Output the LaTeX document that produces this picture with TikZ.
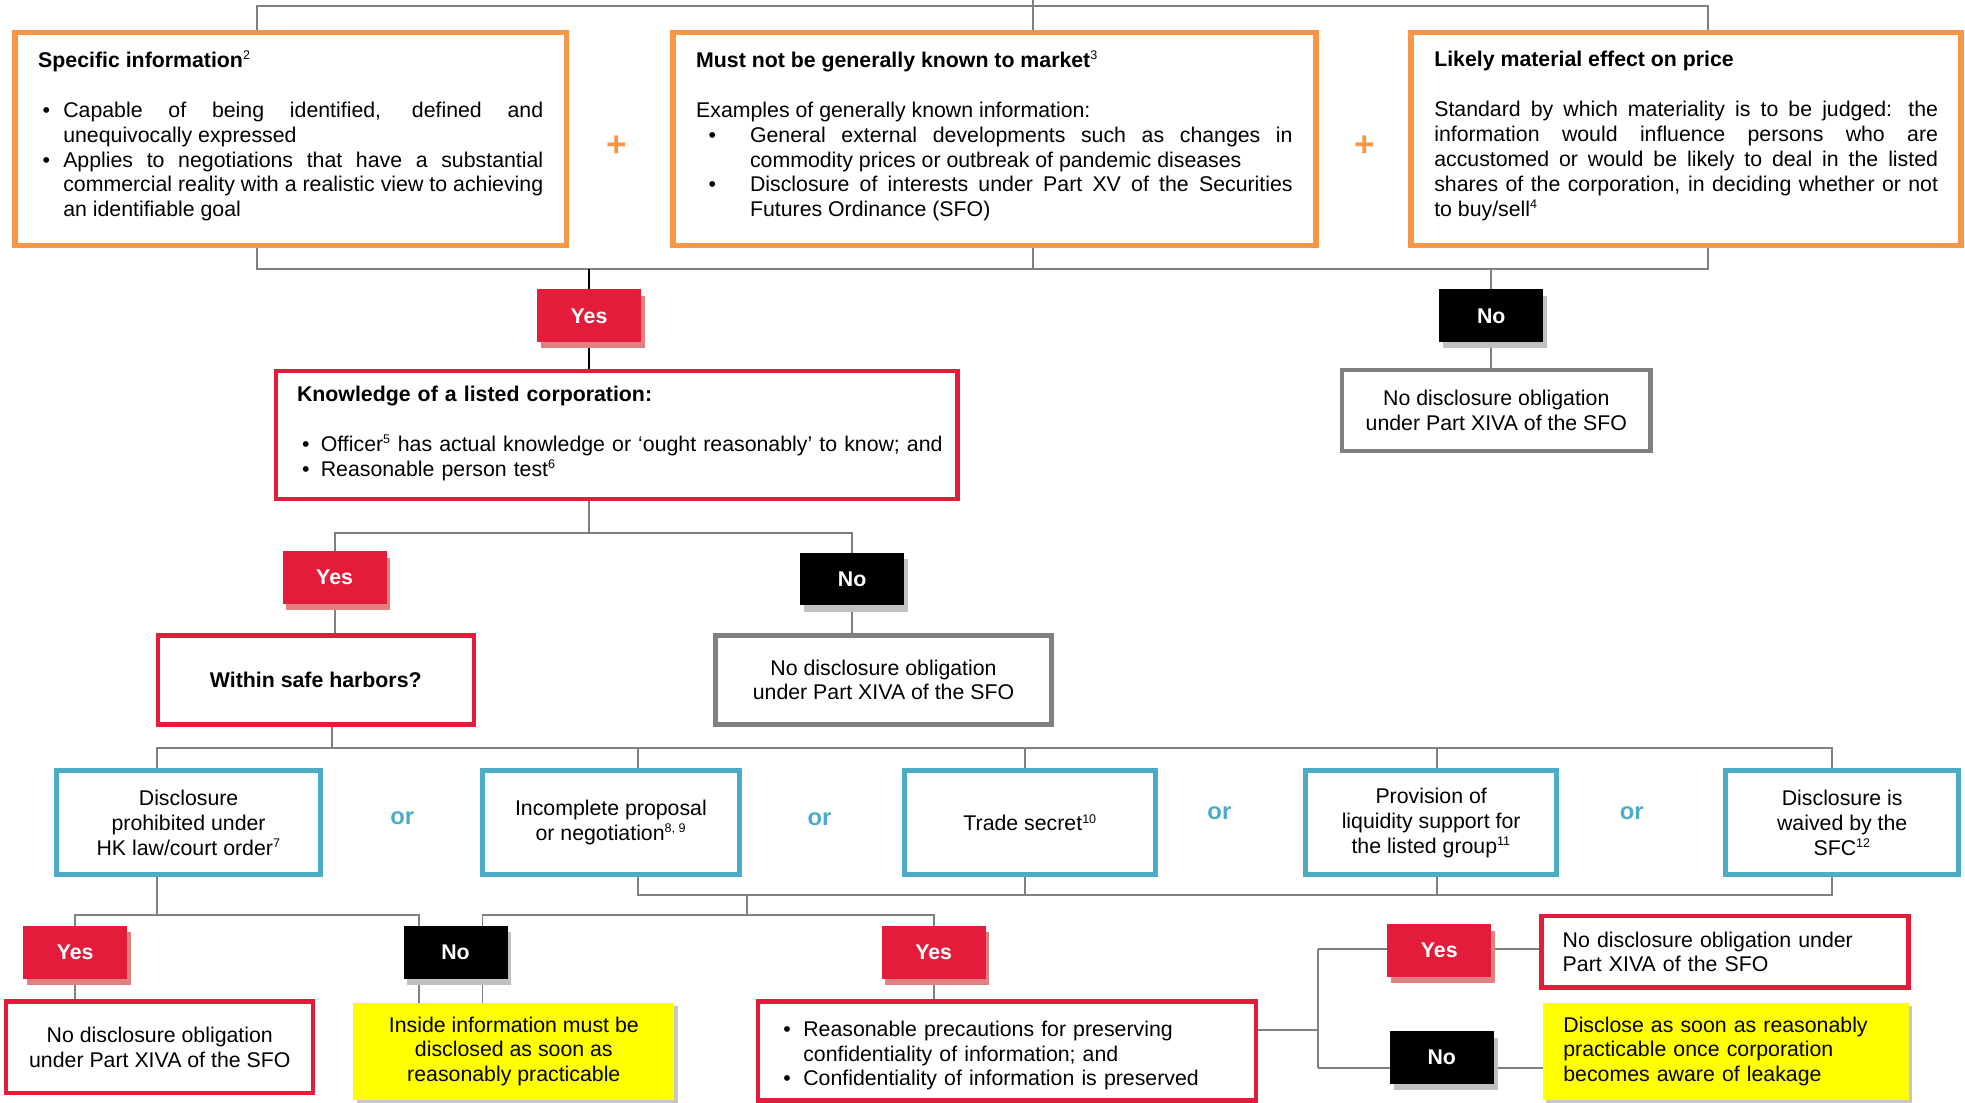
\documentclass[tikz,border=0pt]{standalone}
\usepackage{fontspec}
\setmainfont{Liberation Sans}
\usetikzlibrary{shadows,backgrounds}
\definecolor{cOrange}{HTML}{F79646}
\definecolor{cRed}{HTML}{E41B3A}
\definecolor{cBlue}{HTML}{4BACC6}
\definecolor{cGrey}{HTML}{808080}
\definecolor{cPink}{HTML}{E08080}
\definecolor{cShade}{HTML}{C0C0C0}
\definecolor{cYellow}{HTML}{FFFF00}
\hyphenpenalty=10000
\exhyphenpenalty=10000
\tolerance=9000
\newcommand{\sups}[1]{\textsuperscript{\fontsize{10}{10}\selectfont #1}}
\newcommand{\bitem}[3]{\par\noindent\hangindent=#2\hangafter=1\makebox[#2][l]{\hspace*{#1}\textbullet}\ignorespaces#3\par}
\newcommand{\tailspace}[1]{\par\vspace{#1}\hrule height 0pt width 0pt}
\begin{document}
\begin{tikzpicture}[x=1pt,y=-1pt,
  every node/.style={font=\fontsize{17}{19.8}\selectfont, inner sep=0pt, outer sep=0pt},
  obox/.style={rectangle, draw=cOrange, line width=4.5pt, fill=white},
  rbox/.style={rectangle, draw=cRed, line width=3.5pt, fill=white},
  gbox/.style={rectangle, draw=cGrey, line width=3.5pt, fill=white},
  bbox/.style={rectangle, draw=cBlue, line width=3.8pt, fill=white, align=center, minimum height=83pt},
  ybox/.style={rectangle, fill=cYellow, general shadow={fill=black!22, shadow xshift=3pt, shadow yshift=-3pt}},
  yestag/.style={rectangle, fill=cRed, text=white, font=\fontsize{17}{20}\selectfont\bfseries,
     minimum width=83pt, minimum height=42pt, general shadow={fill=cPink, shadow xshift=3pt, shadow yshift=-5pt}},
  notag/.style={rectangle, fill=black, text=white, font=\fontsize{17}{20}\selectfont\bfseries,
     minimum width=83pt, minimum height=42pt, general shadow={fill=cShade, shadow xshift=3pt, shadow yshift=-5pt}},
  conn/.style={draw=cGrey, line width=1.5pt},
  bconn/.style={draw=black, line width=1.5pt},
  orlbl/.style={text=cBlue, font=\fontsize{19}{19}\selectfont\bfseries},
  pluslbl/.style={text=cOrange, font=\fontsize{28}{28}\selectfont\bfseries}
]
\useasboundingbox (0,0) rectangle (1568,880);

% top row
\node[obox, minimum width=440pt, minimum height=170pt, text width=403pt, align=justify] (b1) at (232,111) {%
\noindent\textbf{Specific information}\sups{2}\par\vspace{20pt}
\bitem{3.5pt}{20pt}{Capable of being identified, defined and\linebreak unequivocally expressed}
\bitem{3.5pt}{20pt}{Applies to negotiations that have a substantial\linebreak commercial reality with a realistic view to achieving\linebreak an identifiable goal}\tailspace{5pt}};
\node[obox, minimum width=513pt, minimum height=170pt, text width=476pt, align=justify] (b2) at (793.5,111) {%
\noindent\textbf{Must not be generally known to market}\sups{3}\par\vspace{20pt}
\noindent Examples of generally known information:\par
\bitem{10pt}{43pt}{General external developments such as changes in\linebreak commodity prices or outbreak of pandemic diseases}
\bitem{10pt}{43pt}{Disclosure of interests under Part XV of the Securities\linebreak Futures Ordinance (SFO)}\tailspace{5pt}};
\node[obox, minimum width=439pt, minimum height=170pt, text width=402pt, align=justify] (b3) at (1345.5,111) {%
\noindent\textbf{Likely material effect on price}\par\vspace{20pt}
\noindent Standard by which materiality is to be judged: the\linebreak information would influence persons who are\linebreak accustomed or would be likely to deal in the listed\linebreak shares of the corporation, in deciding whether or not\linebreak to buy/sell\sups{4}\tailspace{5pt}};
\node[pluslbl] (p1) at (492,117) {+};
\node[pluslbl] (p2) at (1089,117) {+};

% second level
\node[yestag] (yes1) at (470,252) {Yes};
\node[notag] (no1) at (1190,252) {No};
\node[gbox, minimum width=246pt, minimum height=65pt, align=center] (nd1) at (1194,327.5)
  {No disclosure obligation\\under Part XIVA of the SFO};
\node[rbox, minimum width=544pt, minimum height=102pt, text width=530pt, align=left] (know) at (492,347) {%
\leftskip=10pt\noindent\textbf{Knowledge of a listed corporation:}\par\vspace{20pt}
\bitem{4pt}{19pt}{Officer\sups{5} has actual knowledge or ‘ought reasonably’ to know; and}
\bitem{4pt}{19pt}{Reasonable person test\sups{6}}\tailspace{2pt}};

% third level
\node[yestag] (yes2) at (267,461) {Yes};
\node[notag] (no2) at (680,462) {No};
\node[rbox, minimum width=252pt, minimum height=71pt, font=\fontsize{17}{19.8}\selectfont\bfseries] (safe) at (252,542.5) {Within safe harbors?};
\node[gbox, minimum width=268pt, minimum height=71pt, align=center] (nd2) at (705,542.5)
  {No disclosure obligation\\under Part XIVA of the SFO};

% safe harbors
\node[bbox, minimum width=211pt] (bl1) at (150.5,656.5) {Disclosure\\prohibited under\\HK law/court order\sups{7}};
\node[bbox, minimum width=205pt] (bl2) at (487.5,656.5) {Incomplete proposal\\or negotiation\sups{8, 9}};
\node[bbox, minimum width=200pt] (bl3) at (822,656.5) {Trade secret\sups{10}};
\node[bbox, minimum width=200pt] (bl4) at (1142,656.5) {Provision of\\liquidity support for\\the listed group\sups{11}};
\node[bbox, minimum width=186pt] (bl5) at (1470,656.5) {Disclosure is\\waived by the\\SFC\sups{12}};
\node[orlbl] (or1) at (321,653) {or};
\node[orlbl] (or2) at (654,654) {or};
\node[orlbl] (or3) at (973,649) {or};
\node[orlbl] (or4) at (1302,649) {or};

% bottom row
\node[yestag] (yes3) at (60,760) {Yes};
\node[notag] (no3) at (363.5,760) {No};
\node[yestag] (yes4) at (745,760) {Yes};
\node[yestag] (yes5) at (1148.5,758.5) {Yes};
\node[notag] (no5) at (1150.5,844) {No};
\node[rbox, minimum width=245pt, minimum height=73pt, align=center] (nd3) at (127.5,835.5)
  {No disclosure obligation\\under Part XIVA of the SFO};
\node[ybox, minimum width=256pt, minimum height=78pt, align=center] (y1) at (410,839)
  {Inside information must be\\disclosed as soon as\\reasonably practicable};
\node[rbox, minimum width=397pt, minimum height=79pt, text width=365pt, align=left] (rb4) at (803.5,838.5) {%
\bitem{4pt}{20pt}{Reasonable precautions for preserving confidentiality of information; and}
\bitem{4pt}{20pt}{Confidentiality of information is preserved}};
\node[rbox, minimum width=293pt, minimum height=57pt, text width=259pt, align=left] (r5) at (1376.5,759.5)
  {No disclosure obligation under\\Part XIVA of the SFO};
\node[ybox, minimum width=292pt, minimum height=78pt, text width=259pt, align=left] (y2) at (1377,839)
  {Disclose as soon as reasonably\\practicable once corporation\\becomes aware of leakage};

% junction coordinates
\coordinate (topL) at (205,5);
\coordinate (topR) at (1363,5);
\coordinate (topM) at (824,0);
\coordinate (botL) at (205,215);
\coordinate (botR) at (1363,215);
\coordinate (botM) at (824,215);
\coordinate (kj) at (470,425);
\coordinate (sj) at (265,597);
\coordinate (h1) at (125,597);
\coordinate (h2) at (509,597);
\coordinate (h3) at (818,597);
\coordinate (h4) at (1147,597);
\coordinate (h5) at (1462,597);
\coordinate (d1) at (125,730);
\coordinate (d1r) at (334,730);
\coordinate (e2) at (509,714);
\coordinate (e3) at (818,714);
\coordinate (e4) at (1147,714);
\coordinate (e5) at (1462,714);
\coordinate (ej) at (596,714);
\coordinate (fj) at (596,730);
\coordinate (fL) at (385,730);
\coordinate (rj) at (1052,822);
\coordinate (rt) at (1052,757);
\coordinate (rb) at (1052,852);

\begin{pgfonlayer}{background}
\draw[conn] (b1.north -| topL) -- (topL) -- (topR) -- (b3.north -| topR);
\draw[conn] (topM) -- (b2.north -| topM);
\draw[conn] (b1.south -| botL) -- (botL) -- (botR) -- (b3.south -| botR);
\draw[conn] (b2.south -| botM) -- (botM);
\draw[bconn] (botL -| yes1.north) -- (yes1.north);
\draw[bconn] (yes1.south) -- (know.north -| yes1.south);
\draw[conn] (botR -| no1.north) -- (no1.north);
\draw[conn] (no1.south) -- (nd1.north -| no1.south);
\draw[conn] (know.south -| kj) -- (kj);
\draw[conn] (yes2.north) |- (kj) -| (no2.north);
\draw[conn] (yes2.south) -- (safe.north -| yes2.south);
\draw[conn] (no2.south) -- (nd2.north -| no2.south);
\draw[conn] (safe.south -| sj) -- (sj);
\draw[conn] (bl1.north -| h1) -- (h1) -- (h5) -- (bl5.north -| h5);
\draw[conn] (h2) -- (bl2.north -| h2);
\draw[conn] (h3) -- (bl3.north -| h3);
\draw[conn] (h4) -- (bl4.north -| h4);
\draw[conn] (bl1.south -| d1) -- (d1);
\draw[conn] (yes3.north) |- (d1r) -- (y1.north -| d1r);
\draw[conn] (yes3.south) -- (nd3.north -| yes3.south);
\draw[conn] (bl2.south -| e2) -- (e2) -- (e5) -- (bl5.south -| e5);
\draw[conn] (bl3.south -| e3) -- (e3);
\draw[conn] (bl4.south -| e4) -- (e4);
\draw[conn] (ej) -- (fj);
\draw[conn] (y1.north -| fL) -- (fL) -| (yes4.north);
\draw[conn] (yes4.south) -- (rb4.north -| yes4.south);
\draw[conn] (rb4.east |- rj) -- (rj);
\draw[conn] (rt) -- (rb);
\draw[conn] (rt) -- (yes5.west |- rt);
\draw[conn] (rb) -- (no5.west |- rb);
\draw[conn] (yes5.east |- rt) -- (r5.west |- rt);
\draw[conn] (no5.east |- rb) -- (y2.west |- rb);
\end{pgfonlayer}
\end{tikzpicture}
\end{document}
